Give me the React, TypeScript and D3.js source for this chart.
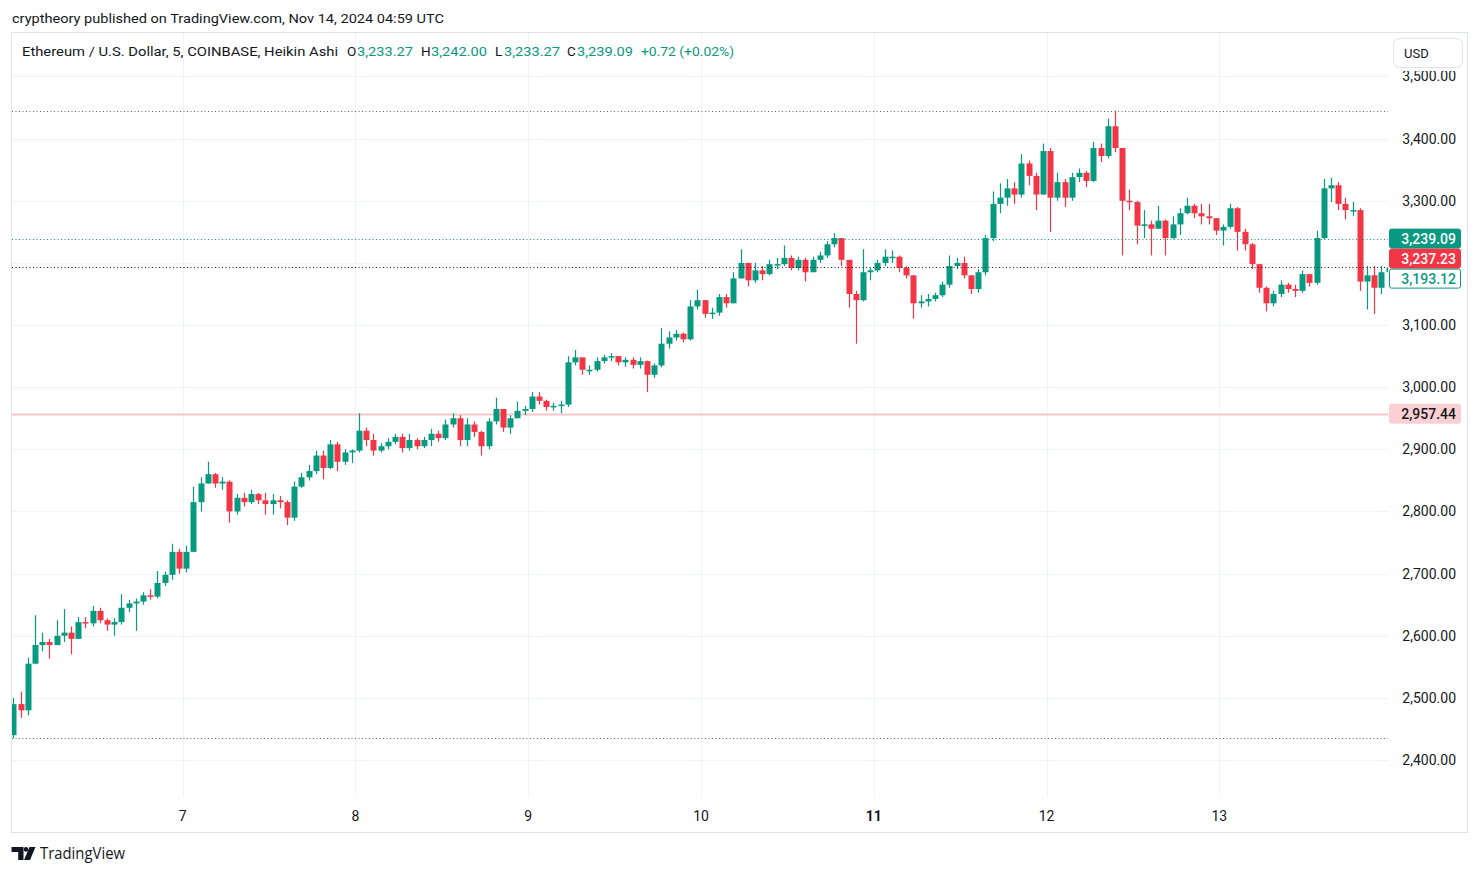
import React, { useEffect, useRef } from 'react';
import * as d3 from 'd3';

// ETH/USD 5m Heikin Ashi, resampled by eye to hourly candles (Nov 6 00:00 -> Nov 14 00:00)
const firstOpen = 2440;
const hourClose = [
  2490, 2480, 2555, 2585, 2590, 2585, 2600, 2605, 2595, 2622, 2620, 2640, 2625, 2618, 2622, 2645, 2652, 2655, 2665, 2663, 2685, 2698, 2735, 2708,
  2735, 2815, 2845, 2860, 2845, 2848, 2800, 2822, 2815, 2828, 2818, 2812, 2818, 2815, 2790, 2840, 2855, 2865, 2890, 2870, 2908, 2880, 2895, 2898,
  2930, 2915, 2898, 2905, 2912, 2920, 2902, 2915, 2905, 2915, 2925, 2918, 2940, 2950, 2915, 2940, 2928, 2905, 2945, 2965, 2935, 2950, 2962, 2965,
  2985, 2978, 2968, 2970, 2972, 3040, 3048, 3028, 3028, 3042, 3048, 3050, 3040, 3044, 3036, 3042, 3020, 3035, 3070, 3080, 3086, 3077, 3130, 3140,
  3118, 3120, 3145, 3135, 3175, 3200, 3172, 3188, 3182, 3198, 3198, 3208, 3192, 3205, 3185, 3205, 3212, 3230, 3240, 3205, 3150, 3140, 3185, 3188,
  3200, 3210, 3210, 3192, 3180, 3135, 3138, 3142, 3148, 3165, 3195, 3200, 3180, 3158, 3185, 3240, 3295, 3305, 3320, 3310, 3360, 3340, 3310, 3380,
  3305, 3330, 3305, 3338, 3345, 3332, 3385, 3372, 3420, 3385, 3300, 3298, 3260, 3262, 3255, 3268, 3240, 3262, 3280, 3292, 3280, 3275, 3272, 3252,
  3258, 3288, 3250, 3230, 3198, 3160, 3135, 3150, 3165, 3158, 3155, 3182, 3168, 3240, 3320, 3325, 3295, 3285, 3285, 3170, 3180, 3160, 3185, 3192
];
const hourHigh = [
  2500, 2510, 2565, 2633, 2605, 2595, 2625, 2643, 2615, 2630, 2630, 2648, 2645, 2628, 2628, 2667, 2658, 2660, 2670, 2675, 2704, 2703, 2748, 2740,
  2745, 2840, 2855, 2880, 2862, 2855, 2850, 2828, 2830, 2835, 2830, 2830, 2828, 2825, 2818, 2848, 2862, 2875, 2898, 2898, 2915, 2912, 2900, 2900,
  2958, 2935, 2925, 2910, 2918, 2925, 2925, 2925, 2918, 2920, 2933, 2930, 2948, 2958, 2955, 2950, 2945, 2930, 2950, 2983, 2965, 2955, 2977, 2970,
  2992, 2992, 2980, 2975, 2978, 3050, 3060, 3048, 3035, 3048, 3052, 3055, 3050, 3048, 3048, 3048, 3043, 3038, 3095, 3090, 3092, 3088, 3140, 3157,
  3140, 3128, 3150, 3150, 3185, 3222, 3200, 3200, 3195, 3205, 3208, 3228, 3212, 3210, 3208, 3210, 3218, 3235, 3248, 3240, 3205, 3155, 3222, 3192,
  3205, 3222, 3220, 3212, 3195, 3180, 3148, 3150, 3152, 3170, 3212, 3208, 3210, 3180, 3190, 3245, 3315, 3328, 3335, 3330, 3375, 3365, 3345, 3392,
  3385, 3345, 3335, 3345, 3352, 3348, 3395, 3392, 3432, 3445, 3385, 3318, 3300, 3285, 3268, 3292, 3270, 3275, 3288, 3305, 3295, 3295, 3295, 3272,
  3262, 3295, 3290, 3255, 3232, 3198, 3162, 3155, 3172, 3168, 3165, 3188, 3180, 3252, 3335, 3337, 3330, 3305, 3298, 3288, 3195, 3195, 3195, 3198
];
const hourLow = [
  2435, 2468, 2472, 2560, 2575, 2563, 2585, 2590, 2570, 2595, 2612, 2615, 2620, 2608, 2600, 2618, 2638, 2608, 2650, 2658, 2660, 2680, 2690, 2700,
  2702, 2735, 2800, 2845, 2838, 2835, 2782, 2795, 2808, 2812, 2812, 2795, 2795, 2805, 2778, 2785, 2838, 2850, 2860, 2852, 2868, 2865, 2875, 2878,
  2895, 2905, 2890, 2895, 2900, 2908, 2895, 2898, 2900, 2902, 2905, 2912, 2915, 2935, 2905, 2905, 2920, 2890, 2900, 2940, 2928, 2925, 2950, 2955,
  2960, 2972, 2962, 2962, 2958, 2968, 3035, 3020, 3020, 3025, 3038, 3042, 3035, 3033, 3030, 3030, 2992, 3015, 3032, 3062, 3075, 3072, 3075, 3125,
  3112, 3110, 3115, 3128, 3135, 3175, 3162, 3168, 3172, 3180, 3190, 3195, 3188, 3188, 3170, 3185, 3200, 3208, 3225, 3195, 3128, 3070, 3138, 3172,
  3185, 3195, 3200, 3185, 3175, 3110, 3128, 3130, 3138, 3145, 3160, 3190, 3175, 3150, 3152, 3180, 3235, 3280, 3292, 3295, 3305, 3325, 3285, 3310,
  3250, 3300, 3290, 3300, 3330, 3322, 3330, 3362, 3368, 3378, 3212, 3285, 3230, 3240, 3212, 3255, 3212, 3238, 3245, 3278, 3272, 3262, 3262, 3245,
  3228, 3255, 3220, 3220, 3190, 3152, 3122, 3130, 3145, 3152, 3145, 3152, 3162, 3165, 3238, 3298, 3285, 3270, 3275, 3155, 3125, 3118, 3150, 3178
];

const priceTicks = [2400, 2500, 2600, 2700, 2800, 2900, 3000, 3100, 3200, 3300, 3400, 3500];
const dayTicks = [7, 8, 9, 10, 11, 12, 13];
const boldDay = 11;

// price lines / scale tags
const lastClose = 3239.09;
const lastTrade = 3237.23;
const haClose = 3193.12;
const alertLevel = 2957.44;

// legend (O H L C, change)
const legendLetters = ['O', 'H', 'L', 'C'];
const legendValues = [3233.27, 3242.0, 3233.27, 3239.09];
const legendChange = 0.72;
const legendChangePct = 0.02;

const GREEN = '#089981';
const RED = '#f23645';
const TEXT = '#131722';
const FONT = "Roboto, 'Liberation Sans', sans-serif";

const App: React.FC = () => {
  const svgRef = useRef<SVGSVGElement>(null);

  useEffect(() => {
    if (!svgRef.current) return;
    const svg = d3.select(svgRef.current);
    svg.selectAll('*').remove();

    const plot = { left: 12, right: 1388, top: 33, bottom: 797 };
    const t0 = Date.UTC(2024, 10, 6);
    const t1 = Date.UTC(2024, 10, 14);
    const hour = 3600 * 1000;
    const x = d3.scaleUtc().domain([t0, t1]).range([9.9, 1392.1]);
    const y = d3.scaleLinear().domain([2340.5, 3570]).range([797, 33]);
    const fmt = d3.format(',.2f');

    svg.append('rect').attr('width', 1479).attr('height', 875).attr('fill', '#ffffff');

    // header
    svg.append('text').attr('x', 12).attr('y', 23).attr('font-family', FONT).attr('font-size', 13.5)
      .attr('fill', TEXT).attr('textLength', 432).attr('lengthAdjust', 'spacingAndGlyphs')
      .text('cryptheory published on TradingView.com, Nov 14, 2024 04:59 UTC');

    // frame
    svg.append('rect').attr('x', 11.5).attr('y', 32.5).attr('width', 1456).attr('height', 800)
      .attr('fill', 'none').attr('stroke', '#e0e3eb');

    // grid
    const grid = svg.append('g').attr('stroke', '#f0f3fa').attr('stroke-width', 1);
    grid.selectAll('line.h').data(priceTicks).enter().append('line')
      .attr('x1', plot.left).attr('x2', plot.right)
      .attr('y1', d => Math.round(y(d)) + 0.5).attr('y2', d => Math.round(y(d)) + 0.5);
    grid.selectAll('line.v').data(dayTicks).enter().append('line')
      .attr('x1', d => Math.round(x(Date.UTC(2024, 10, d))) + 0.5).attr('x2', d => Math.round(x(Date.UTC(2024, 10, d))) + 0.5)
      .attr('y1', plot.top).attr('y2', plot.bottom);

    // clip for plot
    svg.append('clipPath').attr('id', 'plotClip').append('rect')
      .attr('x', plot.left).attr('y', plot.top).attr('width', plot.right - plot.left).attr('height', plot.bottom - plot.top);
    const g = svg.append('g').attr('clip-path', 'url(#plotClip)');

    const candles = hourClose.map((c, i) => ({
      t: t0 + i * hour + hour / 2,
      open: i === 0 ? firstOpen : hourClose[i - 1],
      close: c,
      high: hourHigh[i],
      low: hourLow[i]
    }));

    // price lines
    const hiVal = d3.max(hourHigh) as number;
    const loVal = d3.min(hourLow) as number;
    const hline = (v: number, color: string, dash: string | null, w: number) => {
      const l = g.append('line').attr('x1', plot.left).attr('x2', plot.right)
        .attr('y1', Math.round(y(v)) + 0.5).attr('y2', Math.round(y(v)) + 0.5)
        .attr('stroke', color).attr('stroke-width', w);
      if (dash) l.attr('stroke-dasharray', dash);
    };
    hline(alertLevel, '#f7c5c8', null, 2);
    hline(hiVal, '#5d606b', '1,2.5', 1);
    hline(loVal, '#5d606b', '1,2.5', 1);

    const bw = 6;
    const cg = g.append('g');
    cg.selectAll('line.wick').data(candles).enter().append('line')
      .attr('x1', d => Math.round(x(d.t)) + 0.5).attr('x2', d => Math.round(x(d.t)) + 0.5)
      .attr('y1', d => y(Math.max(d.high, d.open, d.close))).attr('y2', d => y(Math.min(d.low, d.open, d.close)))
      .attr('stroke', d => (d.close >= d.open ? GREEN : RED)).attr('stroke-width', 1.2);
    cg.selectAll('rect.body').data(candles).enter().append('rect')
      .attr('x', d => Math.round(x(d.t)) + 0.5 - bw / 2).attr('width', bw)
      .attr('y', d => y(Math.max(d.open, d.close)))
      .attr('height', d => Math.max(1.5, Math.abs(y(d.open) - y(d.close))))
      .attr('fill', d => (d.close >= d.open ? GREEN : RED));

    hline(lastClose, GREEN, '1,2.5', 1);
    hline(haClose, '#131722', '1,2.5', 1);

    // price tags, stacked so they don't overlap
    const tagH = 20;
    const tags = [
      { v: lastClose, fill: GREEN, stroke: GREEN, color: '#ffffff' },
      { v: lastTrade, fill: RED, stroke: RED, color: '#ffffff' },
      { v: haClose, fill: '#ffffff', stroke: GREEN, color: GREEN }
    ].sort((a, b) => y(a.v) - y(b.v));
    let prev = -Infinity;
    const placed = tags.map(tg => {
      const cy = Math.max(y(tg.v), prev + tagH);
      prev = cy;
      return { ...tg, cy };
    });
    placed.push({ v: alertLevel, fill: '#fbd0d3', stroke: '#fbd0d3', color: TEXT, cy: y(alertLevel) });

    // price axis labels (hidden where a tag covers them)
    const visibleTicks = priceTicks.filter(p => !placed.some(tg => Math.abs(tg.cy - y(p)) < tagH / 2 + 4));
    svg.selectAll('text.pt').data(visibleTicks).enter().append('text')
      .attr('x', 1456).attr('y', d => y(d)).attr('dy', '0.35em').attr('text-anchor', 'end')
      .attr('font-family', FONT).attr('font-size', 14).attr('fill', TEXT)
      .text(d => fmt(d));

    // USD button area
    svg.append('rect').attr('x', 1389).attr('y', 33).attr('width', 78).attr('height', 38).attr('fill', '#ffffff');
    svg.append('rect').attr('x', 1393.5).attr('y', 38.5).attr('width', 69).attr('height', 29).attr('rx', 6)
      .attr('fill', '#ffffff').attr('stroke', '#e0e3eb');
    svg.append('text').attr('x', 1404).attr('y', 53).attr('dy', '0.35em').attr('font-family', FONT)
      .attr('font-size', 13).attr('fill', TEXT).text('USD');

    placed.forEach(tg => {
      svg.append('rect').attr('x', 1389.5).attr('y', tg.cy - tagH / 2 + 0.5).attr('width', 71).attr('height', tagH - 1)
        .attr('rx', 2).attr('fill', tg.fill).attr('stroke', tg.stroke);
      svg.append('text').attr('x', 1456).attr('y', tg.cy).attr('dy', '0.35em').attr('text-anchor', 'end')
        .attr('font-family', FONT).attr('font-size', 14).attr('font-weight', 500).attr('fill', tg.color).text(fmt(tg.v));
    });

    // time axis
    svg.selectAll('text.day').data(dayTicks).enter().append('text')
      .attr('x', d => x(Date.UTC(2024, 10, d))).attr('y', 816).attr('dy', '0.35em').attr('text-anchor', 'middle')
      .attr('font-family', FONT).attr('font-size', 14).attr('fill', TEXT)
      .attr('font-weight', d => (d === boldDay ? 700 : 400))
      .text(d => String(d));

    // legend
    const lg = svg.append('g').attr('font-family', FONT).attr('font-size', 13.5);
    lg.append('text').attr('x', 22).attr('y', 56).attr('fill', TEXT)
      .attr('textLength', 316).attr('lengthAdjust', 'spacingAndGlyphs')
      .text('Ethereum / U.S. Dollar, 5, COINBASE, Heikin Ashi');
    const letterX = [347, 421, 495, 567];
    const valueX = [357, 431, 504, 577];
    legendLetters.forEach((l, i) => {
      lg.append('text').attr('x', letterX[i]).attr('y', 56).attr('fill', TEXT).text(l);
      lg.append('text').attr('x', valueX[i]).attr('y', 56).attr('fill', GREEN)
        .attr('textLength', 56).attr('lengthAdjust', 'spacingAndGlyphs').text(fmt(legendValues[i]));
    });
    lg.append('text').attr('x', 641).attr('y', 56).attr('fill', GREEN)
      .attr('textLength', 93).attr('lengthAdjust', 'spacingAndGlyphs')
      .text(`+${legendChange.toFixed(2)} (+${legendChangePct.toFixed(2)}%)`);

    // TradingView logo
    const logo = svg.append('g').attr('fill', TEXT);
    logo.append('path').attr('d', 'M11.5,847 H23.5 V860 H18.2 V852 H11.5 Z');
    logo.append('circle').attr('cx', 26).attr('cy', 849.4).attr('r', 2.3);
    logo.append('path').attr('d', 'M29.5,847 H35.5 L30,860 H24 Z');
    svg.append('text').attr('x', 40).attr('y', 859).attr('font-family', "'Open Sans', Lato, sans-serif")
      .attr('font-size', 15.5).attr('fill', TEXT).attr('textLength', 85).attr('lengthAdjust', 'spacingAndGlyphs')
      .text('TradingView');
  }, []);

  return (
    <div style={{ position: 'absolute', left: 0, top: 0 }}>
      <svg ref={svgRef} width={1479} height={875} style={{ display: 'block' }} />
    </div>
  );
};

export default App;
